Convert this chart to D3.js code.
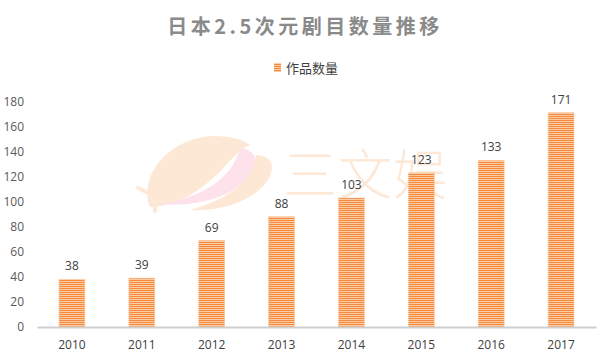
<!DOCTYPE html>
<html><head><meta charset="utf-8">
<script src="https://cdn.jsdelivr.net/npm/d3@7"></script>
<style>body{margin:0;background:#fff}svg{display:block}</style>
</head><body>
<script>
const title = "日本2.5次元剧目数量推移";
const seriesName = "作品数量";
const years = ["2010","2011","2012","2013","2014","2015","2016","2017"];
const counts = [38,39,69,88,103,123,133,171];
const yTicks = [0,20,40,60,80,100,120,140,160,180];

const W=604,H=359;
const svg=d3.select("body").append("svg").attr("width",W).attr("height",H);
const defs=svg.append("defs");
const pat=defs.append("pattern").attr("id","stripe").attr("patternUnits","userSpaceOnUse")
  .attr("width",4).attr("height",2);
pat.append("rect").attr("width",4).attr("height",2).attr("fill","#fcd3b0");
pat.append("rect").attr("width",4).attr("height",1.1).attr("fill","#f58a3c");

const fontCJK="'Noto Sans CJK SC','Noto Sans',sans-serif";
const fontNum="'Open Sans','Noto Sans',sans-serif";

// watermark
const wm=svg.append("g");
wm.append("path").attr("fill","#fde8d6")
  .attr("d","M150,207 C138,175 170,138 212,136 C232,136 244,140 250,145 C232,152 222,178 185,198 C172,204 160,207 150,207 Z");
wm.append("path").attr("stroke","#fde8d6").attr("stroke-width",4).attr("fill","none").attr("stroke-linecap","round")
  .attr("d","M138,188 L162,200 M155,200 L155,211");
wm.append("path").attr("fill","#fde2ec")
  .attr("d","M240,148 C256,150 259,160 252,172 C240,194 200,208 160,204 C200,198 232,180 240,148 Z");
wm.append("path").attr("fill","#fde8d6")
  .attr("d","M256,155 C272,156 276,166 268,180 C255,200 222,212 190,210 C226,200 254,182 256,155 Z");
wm.append("text").attr("x",283).attr("y",195).attr("font-family",fontCJK).attr("font-size",54)
  .attr("font-weight",300).attr("fill","#fde8d6").attr("letter-spacing",1).text("三文娱");

// title
svg.append("text").attr("x",305).attr("y",34).attr("text-anchor","middle")
  .attr("font-family",fontCJK).attr("font-size",20).attr("font-weight","bold")
  .attr("letter-spacing",3.5).attr("fill","#8a8a8a").text(title);

// legend
const lg=svg.append("g");
lg.append("rect").attr("x",274).attr("y",63).attr("width",7).attr("height",9).attr("fill","url(#stripe)");
lg.append("text").attr("x",286).attr("y",73).attr("font-family",fontCJK).attr("font-size",13)
  .attr("fill","#404040").text(seriesName);

const x=d3.scaleBand().domain(years).range([37,596]).paddingInner(0.63).paddingOuter(0.315);
const y=d3.scaleLinear().domain([0,180]).range([327,101.5]);

// y tick labels
const ya=svg.append("g").attr("transform","translate(28,0)")
  .call(d3.axisLeft(y).tickValues(yTicks).tickSize(0).tickPadding(4));
ya.select(".domain").remove();
ya.selectAll("text").attr("font-family",fontNum).attr("font-size",12).attr("fill","#595959");

// bars
svg.append("g").selectAll("rect").data(counts).join("rect")
  .attr("x",(d,i)=>x(years[i])).attr("width",x.bandwidth())
  .attr("y",d=>y(d)).attr("height",d=>y(0)-y(d))
  .attr("fill","url(#stripe)").attr("stroke","#fbc79c").attr("stroke-width",0.6);

// value labels
svg.append("g").selectAll("text").data(counts).join("text")
  .attr("x",(d,i)=>x(years[i])+x.bandwidth()/2).attr("y",d=>y(d)-9)
  .attr("text-anchor","middle").attr("font-family",fontNum).attr("font-size",12)
  .attr("fill","#404040").text(d=>d);

// x axis
const xa=svg.append("g").attr("transform","translate(0,327)")
  .call(d3.axisBottom(x).tickSize(0).tickPadding(13));
xa.select(".domain").attr("stroke","#cfcfcf").attr("stroke-width",2);
xa.selectAll("text").attr("font-family",fontNum).attr("font-size",12).attr("fill","#404040");
</script>
</body></html>
